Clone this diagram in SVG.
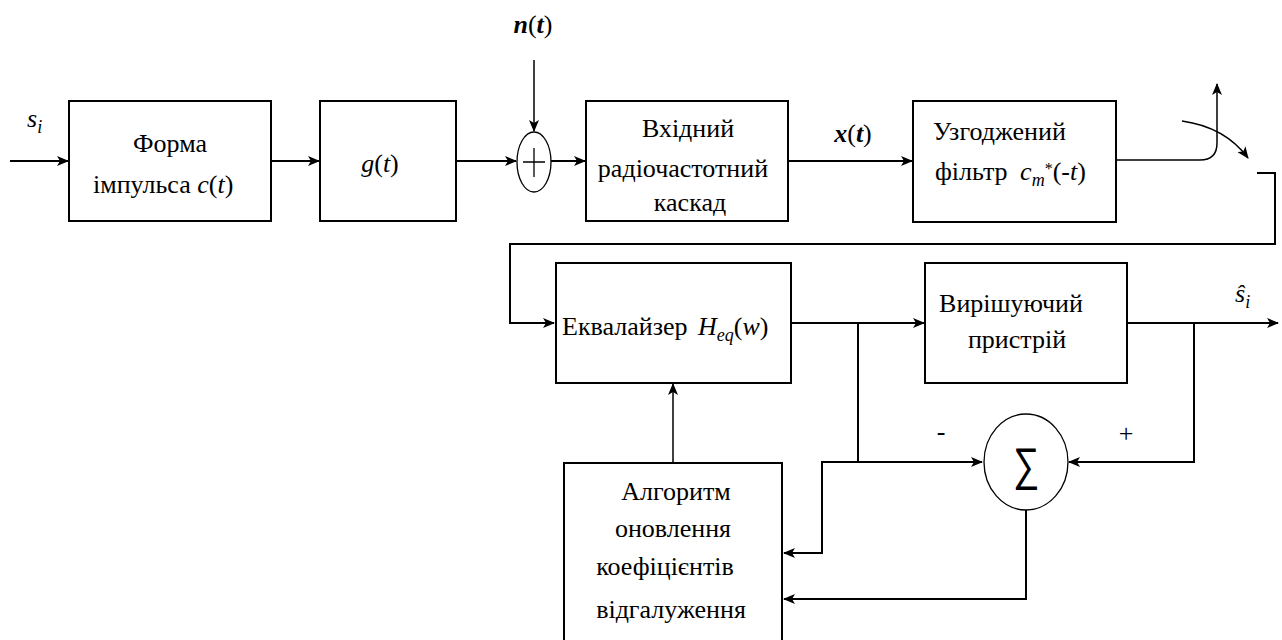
<svg xmlns="http://www.w3.org/2000/svg" width="1282" height="640" viewBox="0 0 1282 640" font-family="Liberation Serif, DejaVu Serif, serif">
<style>
.box{fill:#fff;stroke:#000;stroke-width:2}
.ell{fill:#fff;stroke:#000;stroke-width:1.3}
.c{fill:none;stroke:#000;stroke-width:2}
.t{font-size:26px;fill:#000}
.m{font-style:italic;font-size:26px;fill:#000}
.b{font-weight:bold}
.sub{font-size:18px}
.n{font-style:normal;font-weight:normal}
</style>
<defs>
<marker id="ah" viewBox="0 0 12 10" refX="11" refY="5" markerWidth="12" markerHeight="10" markerUnits="userSpaceOnUse" orient="auto">
<path d="M0,0 L12,5 L0,10 L3,5 z" fill="#000"/>
</marker>
</defs>
<rect width="1282" height="640" fill="#fff"/>
<g id="connectors">
<path class="c" d="M10,161 H68" marker-end="url(#ah)"/>
<path class="c" d="M271,161 H319" marker-end="url(#ah)"/>
<path class="c" d="M456,161 H516" marker-end="url(#ah)"/>
<path class="c" d="M534,60 V131" marker-end="url(#ah)" style="stroke-width:1.5"/>
<path class="c" d="M551,161 H585" marker-end="url(#ah)"/>
<path class="c" d="M788,161 H912" marker-end="url(#ah)"/>
<path class="c" d="M1116,160 H1200 Q1217,160 1217,143 V84" marker-end="url(#ah)" style="stroke-width:1.5"/>
<path class="c" d="M1182,121 Q1225,127 1248,158" marker-end="url(#ah)" style="stroke-width:1.5"/>
<path class="c" d="M1257,173 H1275 V244 H510 V323 H554" marker-end="url(#ah)"/>
<path class="c" d="M791,323 H924" marker-end="url(#ah)"/>
<path class="c" d="M1127,323 H1278" marker-end="url(#ah)"/>
<path class="c" d="M858,323 V462 H982" marker-end="url(#ah)"/>
<path class="c" d="M1194,323 V462 H1069" marker-end="url(#ah)"/>
<path class="c" d="M858,462 H822 V553 H784" marker-end="url(#ah)"/>
<path class="c" d="M1026,510 V599 H784" marker-end="url(#ah)"/>
<path class="c" d="M673,463 V384" marker-end="url(#ah)" style="stroke-width:1.5"/>
</g>
<g id="labels">
<text class="m" x="27" y="127">s<tspan class="sub" dy="6">i</tspan></text>
<text class="m b" x="533" y="33" text-anchor="middle">n<tspan class="n">(</tspan>t<tspan class="n">)</tspan></text>
<text class="m b" x="853" y="142" text-anchor="middle">x<tspan class="n">(</tspan>t<tspan class="n">)</tspan></text>
<text class="m" x="1235" y="302">ŝ<tspan class="sub" dy="6">i</tspan></text>
<text class="t" x="941" y="440" text-anchor="middle">-</text>
<text class="t" x="1126" y="442" text-anchor="middle">+</text>
</g>
<g id="n1">
<rect class="box" x="69" y="101" width="202" height="120"/>
<text class="t" x="170" y="152" text-anchor="middle">Форма</text>
<text class="t" x="93" y="193">імпульса <tspan class="m">c</tspan>(<tspan class="m">t</tspan>)</text>
</g>
<g id="n2">
<rect class="box" x="320" y="101" width="136" height="120"/>
<text class="m" x="380" y="172" text-anchor="middle">g<tspan class="n">(</tspan>t<tspan class="n">)</tspan></text>
</g>
<g id="sum1">
<ellipse class="ell" cx="534" cy="162" rx="17" ry="30"/>
<path d="M523,162 H545 M534,148 V177" stroke="#000" stroke-width="1.3"/>
</g>
<g id="n3">
<rect class="box" x="586" y="101" width="202" height="120"/>
<text class="t" x="688" y="137" text-anchor="middle">Вхідний</text>
<text class="t" x="683" y="177" text-anchor="middle">радіочастотний</text>
<text class="t" x="690" y="211" text-anchor="middle">каскад</text>
</g>
<g id="n4">
<rect class="box" x="913" y="101" width="203" height="121"/>
<text class="t" x="933" y="140">Узгоджений</text>
<text class="t" x="935" y="180">фільтр <tspan class="m" dx="6">c</tspan><tspan class="m sub" dy="6">m</tspan><tspan font-size="16" dy="-12">*</tspan><tspan dy="6">(-</tspan><tspan class="m">t</tspan>)</text>
</g>
<g id="n5">
<rect class="box" x="556" y="263" width="235" height="120"/>
<text class="t" x="562" y="335">Еквалайзер <tspan class="m" dx="4">H</tspan><tspan class="m sub" dy="6">eq</tspan><tspan dy="-6">(</tspan><tspan class="m">w</tspan>)</text>
</g>
<g id="n6">
<rect class="box" x="925" y="263" width="202" height="120"/>
<text class="t" x="1011" y="312" text-anchor="middle">Вирішуючий</text>
<text class="t" x="1017" y="348" text-anchor="middle">пристрій</text>
</g>
<g id="n7">
<rect class="box" x="564" y="463" width="218" height="190"/>
<text class="t" x="676" y="500" text-anchor="middle">Алгоритм</text>
<text class="t" x="673" y="537" text-anchor="middle">оновлення</text>
<text class="t" x="665" y="575" text-anchor="middle">коефіцієнтів</text>
<text class="t" x="671" y="618" text-anchor="middle">відгалуження</text>
</g>
<g id="sum2">
<ellipse class="ell" cx="1026" cy="462" rx="42" ry="48"/>
<text x="1026" y="480" text-anchor="middle" font-family="DejaVu Sans, sans-serif" font-weight="200" font-size="46" fill="#000" transform="translate(1026,0) scale(0.8,1) translate(-1026,0)">∑</text>
</g>
</svg>
